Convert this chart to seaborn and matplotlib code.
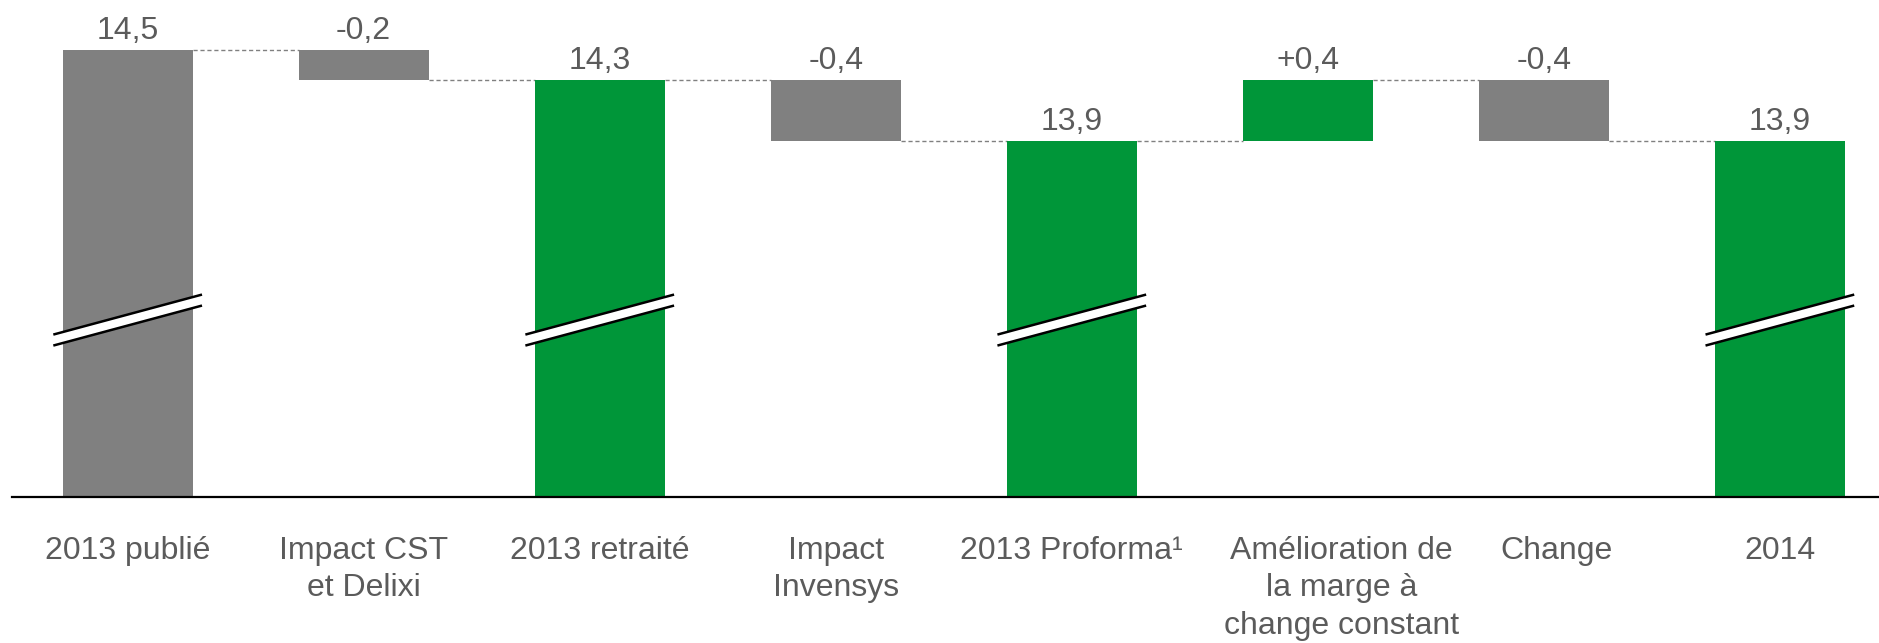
import matplotlib
matplotlib.use("Agg")
import matplotlib.pyplot as plt
from matplotlib.patches import Polygon
from matplotlib.transforms import ScaledTranslation
import seaborn as sns
import pandas as pd

# Waterfall: EBITA margin bridge, 2013 published -> 2014 (in %)
categories = [
    "2013 publié",
    "Impact CST\net Delixi",
    "2013 retraité",
    "Impact\nInvensys",
    "2013 Proforma¹",
    "Amélioration de\nla marge à\nchange constant",
    "Change",
    "2014",
]
values = [14.5, -0.2, 14.3, -0.4, 13.9, 0.4, -0.4, 13.9]
is_total = [True, False, True, False, True, False, False, True]
value_labels = ["14,5", "-0,2", "14,3", "-0,4", "13,9", "+0,4", "-0,4", "13,9"]

GREY = "#808080"
GREEN = "#009639"
TEXT = "#5b5b5b"
Y_MIN, Y_MAX = 11.553, 14.83

# Bar extents: totals rise from zero (cut by the broken axis), steps float
bottoms, heights, tops, levels = [], [], [], []
level = 0.0
for v, total in zip(values, is_total):
    if total:
        bottoms.append(0.0)
        heights.append(v)
        level = v
    else:
        bottoms.append(level)
        heights.append(v)
        level = level + v
    tops.append(max(bottoms[-1], bottoms[-1] + heights[-1]))
    levels.append(level)

colors = []
for i, (v, total) in enumerate(zip(values, is_total)):
    if i == 0:
        colors.append(GREY)
    elif total:
        colors.append(GREEN)
    else:
        colors.append(GREEN if v > 0 else GREY)

df = pd.DataFrame({"category": categories, "height": heights})

sns.set_style("white")
plt.rcParams["font.family"] = ["Liberation Sans", "DejaVu Sans"]

fig = plt.figure(figsize=(18.79, 6.43), dpi=100)
ax = fig.add_axes([12 / 1879, 1 - 497 / 643, 1 - 12 / 1879, 497 / 643])

BAR_W = 0.55
sns.barplot(data=df, x="category", y="height", bottom=bottoms, width=BAR_W,
            color=GREY, ax=ax, linewidth=0, errorbar=None, zorder=2)
for patch, c in zip(ax.patches, colors):
    patch.set_facecolor(c)
    patch.set_edgecolor(c)

ax.set_ylim(Y_MIN, Y_MAX)
ax.set_xlim(-0.49, 7.42)

# Dashed connectors between consecutive bars
for i in range(len(values) - 1):
    ax.plot([i + BAR_W / 2, i + 1 - BAR_W / 2], [levels[i], levels[i]],
            ls=(0, (3, 2)), color="#808080", lw=1.0, zorder=1)

# Value labels above each bar
for i, (t, lab) in enumerate(zip(tops, value_labels)):
    ax.annotate(lab, (i, t), xytext=(0, 8), textcoords="offset points",
                ha="center", va="baseline", fontsize=23, color=TEXT)

# Axis-break marks on the total bars
trans = ax.get_xaxis_transform()
yc, slope_h, thick = 0.356, 0.0805, 0.0221
ext = BAR_W / 2 + 0.04
for i, total in enumerate(is_total):
    if not total:
        continue
    x0, x1 = i - ext, i + ext
    upper = [(x0, yc - slope_h / 2 + thick / 2), (x1, yc + slope_h / 2 + thick / 2)]
    lower = [(x0, yc - slope_h / 2 - thick / 2), (x1, yc + slope_h / 2 - thick / 2)]
    ax.add_patch(Polygon(upper + lower[::-1], closed=True, facecolor="white",
                         edgecolor="none", transform=trans, zorder=3,
                         clip_on=False))
    for seg in (upper, lower):
        ax.plot([p[0] for p in seg], [p[1] for p in seg], color="black",
                lw=1.8, transform=trans, zorder=4, clip_on=False,
                solid_capstyle="butt")

# Axes styling
sns.despine(ax=ax, left=True, top=True, right=True)
ax.spines["bottom"].set_color("black")
ax.spines["bottom"].set_linewidth(1.6)
ax.set_yticks([])
ax.set_xlabel("")
ax.set_ylabel("")
ax.tick_params(axis="x", length=0, pad=28, labelsize=23, labelcolor=TEXT)

# Horizontal nudge (inches) for crowded category labels
label_shift = [0, 0, 0, 0, 0, 0.34, 0.13, 0]
for t, dx in zip(ax.get_xticklabels(), label_shift):
    t.set_linespacing(1.33)
    if dx:
        t.set_transform(t.get_transform() + ScaledTranslation(dx, 0, fig.dpi_scale_trans))

fig.savefig("out.png", dpi=100, facecolor="white")
